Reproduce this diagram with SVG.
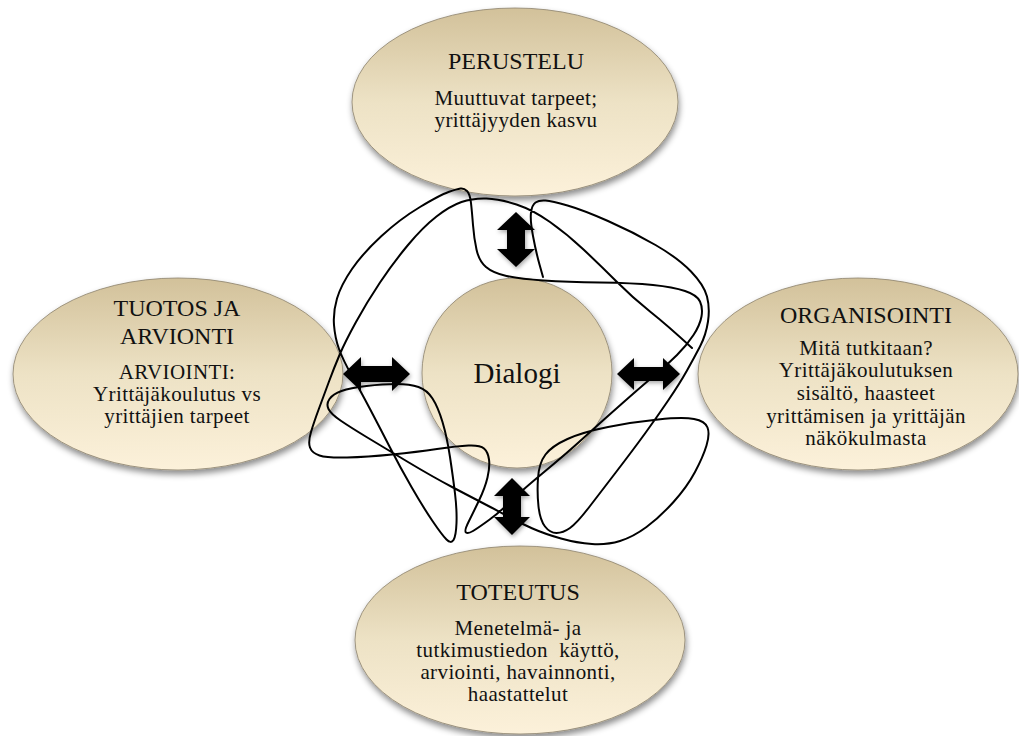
<svg xmlns="http://www.w3.org/2000/svg" width="1019" height="736" viewBox="0 0 1019 736">
<defs>
<linearGradient id="g" x1="0" y1="0" x2="0" y2="1">
<stop offset="0" stop-color="#d2c19a"/>
<stop offset="0.5" stop-color="#ede2c5"/>
<stop offset="1" stop-color="#fcf1da"/>
</linearGradient>
<filter id="sh" x="-20%" y="-20%" width="140%" height="150%">
<feDropShadow dx="1" dy="4" stdDeviation="3" flood-color="#000" flood-opacity="0.45"/>
</filter>
<filter id="ash" x="-30%" y="-30%" width="160%" height="160%">
<feDropShadow dx="1" dy="2" stdDeviation="2" flood-color="#000" flood-opacity="0.35"/>
</filter>
</defs>
<style>
.n{fill:url(#g);stroke:#8c826c;stroke-width:0.8;filter:url(#sh)}
.t{font-family:"Liberation Serif","Times New Roman",serif;font-size:24px;fill:#111;text-anchor:middle}
.b{font-family:"Liberation Serif","Times New Roman",serif;font-size:21px;letter-spacing:0.4px;fill:#111;text-anchor:middle}
.d{font-family:"Liberation Serif","Times New Roman",serif;font-size:29px;fill:#111;text-anchor:middle}
.s{fill:none;stroke:#000;stroke-width:2;stroke-linecap:round;stroke-linejoin:round}
.a{fill:#000;filter:url(#ash)}
</style>
<rect width="1019" height="736" fill="#fff"/>
<g id="perustelu">
<ellipse class="n" cx="515" cy="102" rx="163" ry="94"/>
<text class="t" x="516" y="69">PERUSTELU</text>
<text class="b" x="516" y="105">Muuttuvat tarpeet;</text>
<text class="b" x="516" y="127">yrittäjyyden kasvu</text>
</g>
<g id="tuotos">
<ellipse class="n" cx="178" cy="374" rx="165" ry="96"/>
<text class="t" x="177" y="316">TUOTOS JA</text>
<text class="t" x="177" y="344">ARVIONTI</text>
<text class="b" x="177" y="379">ARVIOINTI:</text>
<text class="b" x="177" y="401">Yrittäjäkoulutus vs</text>
<text class="b" x="177" y="423">yrittäjien tarpeet</text>
</g>
<g id="organisointi">
<ellipse class="n" cx="858" cy="374" rx="160" ry="96"/>
<text class="t" x="866" y="323">ORGANISOINTI</text>
<text class="b" x="866" y="355">Mitä tutkitaan?</text>
<text class="b" x="866" y="377">Yrittäjäkoulutuksen</text>
<text class="b" x="866" y="400">sisältö, haasteet</text>
<text class="b" x="866" y="423">yrittämisen ja yrittäjän</text>
<text class="b" x="866" y="445">näkökulmasta</text>
</g>
<g id="toteutus">
<ellipse class="n" cx="520" cy="640" rx="165" ry="94"/>
<text class="t" x="518" y="600">TOTEUTUS</text>
<text class="b" x="518" y="635">Menetelmä- ja</text>
<text class="b" x="518" y="657" xml:space="preserve">tutkimustiedon  käyttö,</text>
<text class="b" x="518" y="679">arviointi, havainnonti,</text>
<text class="b" x="518" y="701">haastattelut</text>
</g>
<g id="dialogi">
<circle class="n" cx="517" cy="373" r="95"/>
<text class="d" x="517" y="383">Dialogi</text>
</g>
<g id="connectors">
<path class="s" d="M692,348 Q667,325 650,311.5 Q633,298 616.5,281.5 Q600,265 583.5,249.5 Q567,234 550,222 Q533,210 516.5,204.5 Q500,199 486.5,198.5 Q473,198 461.5,202 Q450,206 436.5,216.5 Q423,227 408,245 Q393,263 380,282.5 Q367,302 356,322 Q345,342 339.5,355 Q334,368 329,381.5 Q324,395 319,408.5 Q314,422 311,432 Q308,442 310,447.5 Q312,453 319.5,455.5 Q327,458 347,457.5 Q367,457 392,454.5 Q417,452 437,449 Q457,446 468.5,445.5 Q480,445 484,448.5 Q488,452 489,459.5 Q490,467 487.5,477.5 Q485,488 479,500.5 Q473,513 468.5,522 Q464,531 466,532.5 Q468,534 473,531 Q478,528 489,520 Q500,512 510,502 Q520,492 543.5,472.5 Q567,453 583.5,438 Q600,423 621.5,404 Q643,385 655,375 Q667,365 677,355 Q687,345 693.5,335 Q700,325 701.5,316.5 Q703,308 700,301.5 Q697,295 685,291 Q673,287 653,285 Q633,283 600,282.5 Q567,282 543.5,280.5 Q520,279 506.5,276 Q493,273 486,267 Q479,261 476.5,249.5 Q474,238 473,225 Q472,212 471,203 Q470,194 467,191 Q464,188 460.5,188.5 Q457,189 448.5,192 Q440,195 420,207 Q400,219 381.5,236 Q363,253 352,269 Q341,285 337,298.5 Q333,312 334,325 Q335,338 339,349 Q343,360 351.5,375 Q360,390 370,409 Q380,428 390,447.5 Q400,467 411.5,487 Q423,507 432.5,521 Q442,535 446.5,539.5 Q451,544 453.5,540 Q456,536 456.5,523 Q457,510 455,493.5 Q453,477 450,457 Q447,437 442.5,422 Q438,407 432.5,398.5 Q427,390 418.5,387 Q410,384 396.5,384 Q383,384 366.5,386 Q350,388 341.5,391 Q333,394 329.5,399 Q326,404 328.5,409 Q331,414 340.5,420.5 Q350,427 366.5,437 Q383,447 408,462 Q433,477 453,487.5 Q473,498 486.5,505 Q500,512 510,517.5 Q520,523 532.5,528.5 Q545,534 561,538.5 Q577,543 592,544 Q607,545 620,541 Q633,537 646.5,527 Q660,517 673.5,502 Q687,487 695,472 Q703,457 706.5,445.5 Q710,434 707.5,427.5 Q705,421 694,419 Q683,417 658,419.5 Q633,422 608,427 Q583,432 567.5,439 Q552,446 545.5,454.5 Q539,463 538,478 Q537,493 538.5,506.5 Q540,520 545,526.5 Q550,533 556.5,533 Q563,533 570,528 Q577,523 588.5,508 Q600,493 616.5,471.5 Q633,450 645,433.5 Q657,417 668.5,400 Q680,383 687,370.5 Q694,358 700,346.5 Q706,335 708,321.5 Q710,308 707,296.5 Q704,285 691,271.5 Q678,258 655.5,245 Q633,232 608,221 Q583,210 567.5,205.5 Q552,201 545.5,200.5 Q539,200 535.5,202.5 Q532,205 531,212.5 Q530,220 533,236 Q536,252 539.5,264.5 L543,277"/>
<path class="a" d="M516,212 L535,230 L525,230 L525,249 L535,249 L516,267 L497,249 L507,249 L507,230 L497,230 Z"/>
<path class="a" d="M512,478 L530,496 L521,496 L521,517 L530,517 L512,535 L494,517 L503,517 L503,496 L494,496 Z"/>
<path class="a" d="M343,374 L361,357 L361,366 L392,366 L392,357 L410,374 L392,391 L392,382 L361,382 L361,391 Z"/>
<path class="a" d="M617,374 L634,358 L634,367 L663,367 L663,358 L680,374 L663,390 L663,381 L634,381 L634,390 Z"/>
</g>
</svg>
